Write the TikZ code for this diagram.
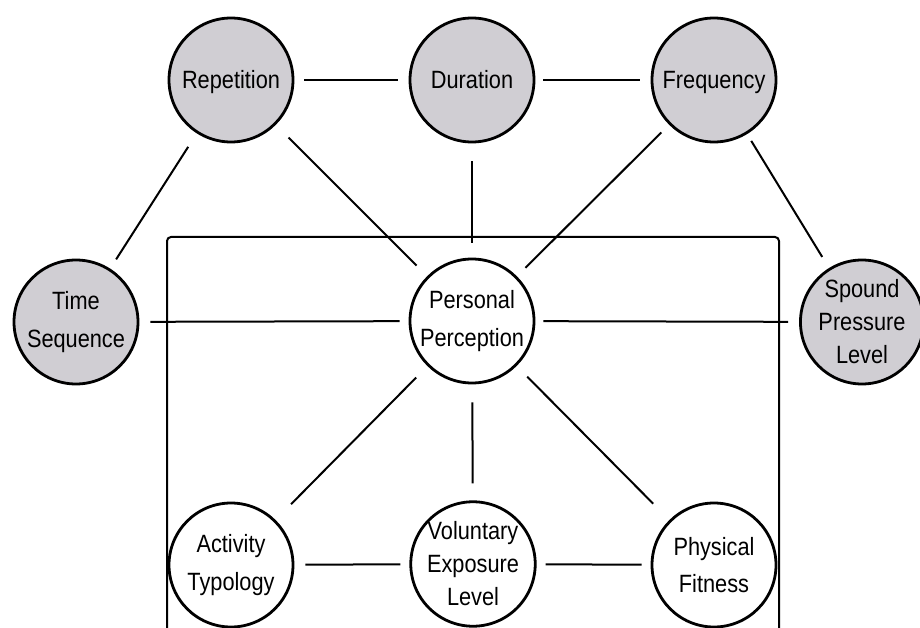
\documentclass[tikz,border=0pt]{standalone}
\usepackage{fontspec}
\setmainfont{Liberation Sans}[FakeStretch=0.87]
\usetikzlibrary{shapes.geometric}
\definecolor{nodegray}{RGB}{208,206,211}
\begin{document}
\begin{tikzpicture}[x=1pt,y=-1pt,
  bubble/.style={circle, draw=black, line width=2.8pt, minimum size=124pt, inner sep=0pt, align=center, font=\fontsize{25}{37.5}\selectfont},
  graybub/.style={bubble, fill=nodegray},
  whitebub/.style={bubble, fill=white},
  oneline/.style={text height=18pt, text depth=0pt},
  threeline/.style={font=\fontsize{25}{33}\selectfont},
  link/.style={line width=2pt},
  frame/.style={line width=2pt, rounded corners=4pt}]
\useasboundingbox (0,0) rectangle (920,628);
\draw[frame] (167,237) rectangle (779,680);

\node[graybub, oneline] (rep) at (231,80) {Repetition};
\node[graybub, oneline] (dur) at (472,80) {Duration};
\node[graybub, oneline] (freq) at (714,80) {Frequency};
\node[graybub] (time) at (76,322) {Time\\Sequence};
\node[graybub, ellipse, minimum width=110pt, minimum height=124pt, threeline] (spl) at (862,322) {Spound\\Pressure\\Level};
\node[whitebub] (pp) at (472,321) {Personal\\Perception};
\node[whitebub] (act) at (231,565) {Activity\\Typology};
\node[whitebub, threeline] (vol) at (473,564) {Voluntary\\Exposure\\Level};
\node[whitebub] (phys) at (714,565) {Physical\\Fitness};

\draw[link, shorten <=10pt, shorten >=11pt] (rep) -- (dur);
\draw[link, shorten <=8pt, shorten >=11pt] (dur) -- (freq);
\draw[link, shorten <=16pt, shorten >=11pt] (rep) -- (time);
\draw[link, shorten <=18pt, shorten >=15pt] (rep) -- (pp);
\draw[link, shorten <=18pt, shorten >=15pt] (dur) -- (pp);
\draw[link, shorten <=11pt, shorten >=12pt] (freq) -- (pp);
\draw[link, shorten <=8pt, shorten >=13pt] (freq) -- (spl);
\draw[link, shorten <=11pt, shorten >=9pt] (time) -- (pp);
\draw[link, shorten <=8pt, shorten >=11pt] (pp) -- (spl);
\draw[link, shorten <=16pt, shorten >=22pt] (pp) -- (act);
\draw[link, shorten <=18pt, shorten >=17pt] (pp) -- (vol);
\draw[link, shorten <=15pt, shorten >=23pt] (pp) -- (phys);
\draw[link, shorten <=11pt, shorten >=9pt] (act) -- (vol);
\draw[link, shorten <=9pt, shorten >=9pt] (vol) -- (phys);
\end{tikzpicture}
\end{document}
